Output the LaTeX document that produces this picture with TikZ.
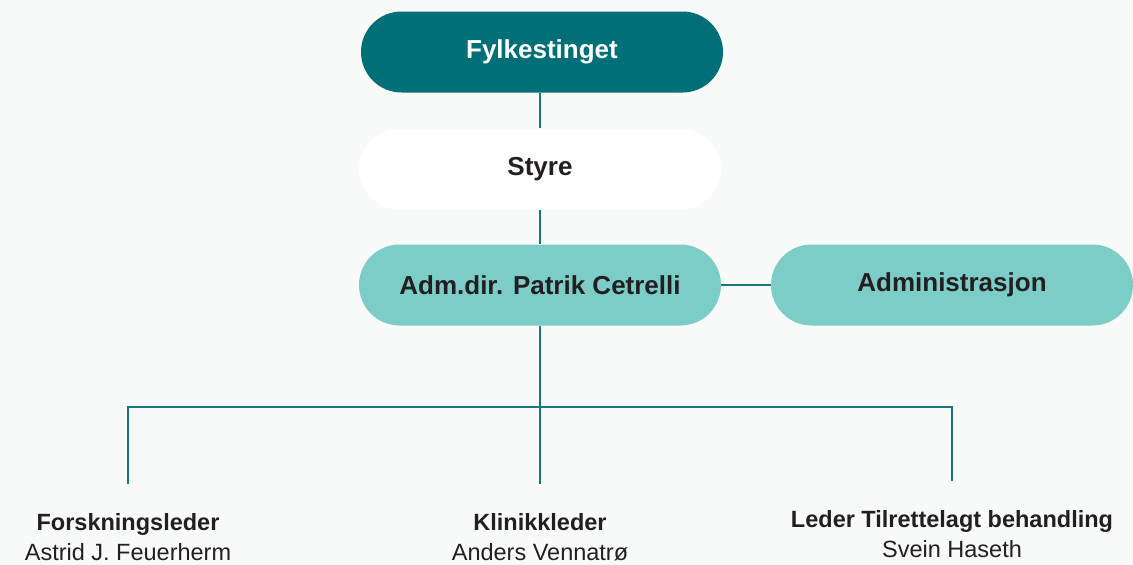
\documentclass[tikz,border=0pt]{standalone}
\usepackage{fontspec}
\setmainfont{Liberation Sans}
\usepackage{tikz}

\definecolor{bgcol}{HTML}{F8FAFA}
\definecolor{darkteal}{HTML}{006F77}
\definecolor{lightteal}{HTML}{7CCCC8}
\definecolor{linecol}{HTML}{1B7480}
\definecolor{textcol}{HTML}{231F20}

\tikzset{
  pill/.style={rounded corners=40.5pt, minimum width=362pt, minimum height=81pt,
    inner sep=0pt, font=\fontsize{26}{30}\selectfont\bfseries, text=textcol},
  person/.style={align=center, inner sep=0pt, text=textcol,
    font=\fontsize{23.5}{30}\selectfont},
  link/.style={draw=linecol, line width=2pt},
  drop/.style={link, shorten >=29pt}
}

\begin{document}
\begin{tikzpicture}[x=1pt, y=-1pt]
    \fill[bgcol] (0, 0) rectangle (1133, 565);
    \useasboundingbox (0, 0) rectangle (1133, 565);

    % boxes
    \node[pill, fill=darkteal, text=white] (fylke) at (542, 52) {Fylkestinget};
    \node[pill, fill=white] (styre) at (540, 169) {Styre};
    \node[pill, fill=lightteal] (adm) at (540, 285) {Adm.dir. Patrik Cetrelli};
    \node[pill, fill=lightteal] (admin) at (952, 285) {Administrasjon};

    % leaders
    \node[person] (forsk) at (128, 537) {\textbf{Forskningsleder}\\Astrid J. Feuerherm};
    \node[person] (klinikk) at (540, 537) {\textbf{Klinikkleder}\\Anders Vennatrø};
    \node[person] (leder) at (952, 534) {\textbf{Leder Tilrettelagt behandling}\\Svein Haseth};

    \coordinate (bus) at (540, 407);

    % connectors
    \path[link] (fylke.south -| styre.north) -- (styre.north);
    \path[link] (styre) -- (adm);
    \path[link] (adm) -- (admin);
    \path[link] (adm.south) -- (bus);
    \path[drop] (bus) -| (forsk.north);
    \path[drop] (bus) -| (leder.north);
    \path[drop] (bus) -- (klinikk.north);
\end{tikzpicture}
\end{document}
